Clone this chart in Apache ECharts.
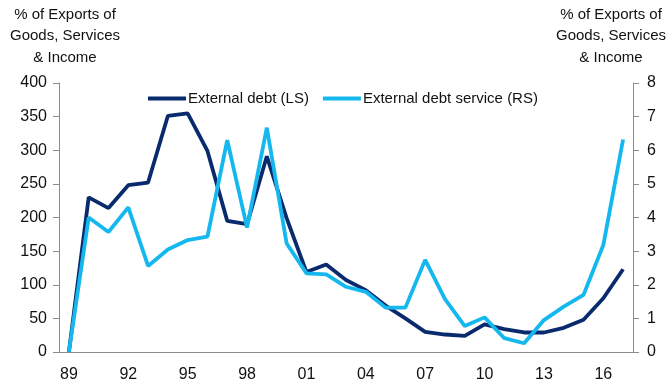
<!DOCTYPE html>
<html>
<head>
<meta charset="utf-8">
<script src="https://cdn.jsdelivr.net/npm/echarts@6/dist/echarts.min.js"></script>
<style>
  html, body { margin: 0; padding: 0; background: #fff; }
  #chart { width: 666px; height: 385px; }
</style>
</head>
<body>
<div id="chart"></div>
<script>
// years 1989 - 2017
const years = ['89','90','91','92','93','94','95','96','97','98','99','00','01','02','03',
  '04','05','06','07','08','09','10','11','12','13','14','15','16','17'];
// External debt, % of exports (left scale)
const externalDebt = [0, 230, 214, 248, 252, 351, 355, 299, 195, 190, 291, 199, 119, 130, 107,
  92, 69, 50, 30, 26, 24, 41, 34, 29, 29, 36, 48, 80, 123];
// External debt service, % of exports (right scale)
const debtService = [0, 4.0, 3.57, 4.3, 2.56, 3.05, 3.33, 3.43, 6.3, 3.7, 6.67, 3.23, 2.34, 2.31, 1.94,
  1.79, 1.32, 1.32, 2.74, 1.57, 0.77, 1.03, 0.41, 0.26, 0.95, 1.35, 1.7, 3.18, 6.32];

const dark = '#0a2a6e';
const light = '#14b8ef';
const font = 'Liberation Sans, Arial, sans-serif';
const axisGrey = '#8c8c8c';
const axisTitle = '% of Exports of\nGoods, Services\n& Income';

const chart = echarts.init(document.getElementById('chart'));
const option = {
    animation: false,
    textStyle: { fontFamily: font },
    grid: { left: 59, right: 33, top: 83, bottom: 33 },
    legend: {
        top: 86,
        left: 143,
        itemWidth: 38,
        itemHeight: 4,
        itemGap: 14,
        icon: 'rect',
        textStyle: { fontSize: 15, color: '#111', fontFamily: font, padding: [0, 0, 0, -3] },
        data: ['External debt (LS)', 'External debt service (RS)']
    },
    graphic: [
        {
            type: 'text',
            style: { text: axisTitle, x: 65, y: 4, textAlign: 'center',
                font: '15px ' + font, fill: '#111', lineHeight: 21.5 }
        },
        {
            type: 'text',
            style: { text: axisTitle, x: 611, y: 4, textAlign: 'center',
                font: '15px ' + font, fill: '#111', lineHeight: 21.5 }
        }
    ],
    xAxis: {
        type: 'category',
        data: years,
        boundaryGap: true,
        axisLine: { lineStyle: { color: axisGrey } },
        axisTick: { interval: 1, length: 6, lineStyle: { color: axisGrey } },
        axisLabel: { interval: 2, fontSize: 16, color: '#111', margin: 15 }
    },
    yAxis: [
        {
            type: 'value', min: 0, max: 400, interval: 50,
            splitLine: { show: false },
            axisLine: { show: true, lineStyle: { color: axisGrey } },
            axisTick: { show: true, length: 6, lineStyle: { color: axisGrey } },
            axisLabel: { fontSize: 16, color: '#111', margin: 12 }
        },
        {
            type: 'value', min: 0, max: 8, interval: 1,
            splitLine: { show: false },
            axisLine: { show: true, lineStyle: { color: axisGrey } },
            axisTick: { show: true, length: 6, lineStyle: { color: axisGrey } },
            axisLabel: { fontSize: 16, color: '#111', margin: 14 }
        }
    ],
    series: [
        {
            name: 'External debt (LS)',
            type: 'line',
            yAxisIndex: 0,
            data: externalDebt,
            showSymbol: false,
            lineStyle: { width: 3.8, color: dark },
            itemStyle: { color: dark },
            z: 2
        },
        {
            name: 'External debt service (RS)',
            type: 'line',
            yAxisIndex: 1,
            data: debtService,
            showSymbol: false,
            lineStyle: { width: 3.8, color: light },
            itemStyle: { color: light },
            z: 3
        }
    ]
};
chart.setOption(option);
</script>
</body>
</html>
